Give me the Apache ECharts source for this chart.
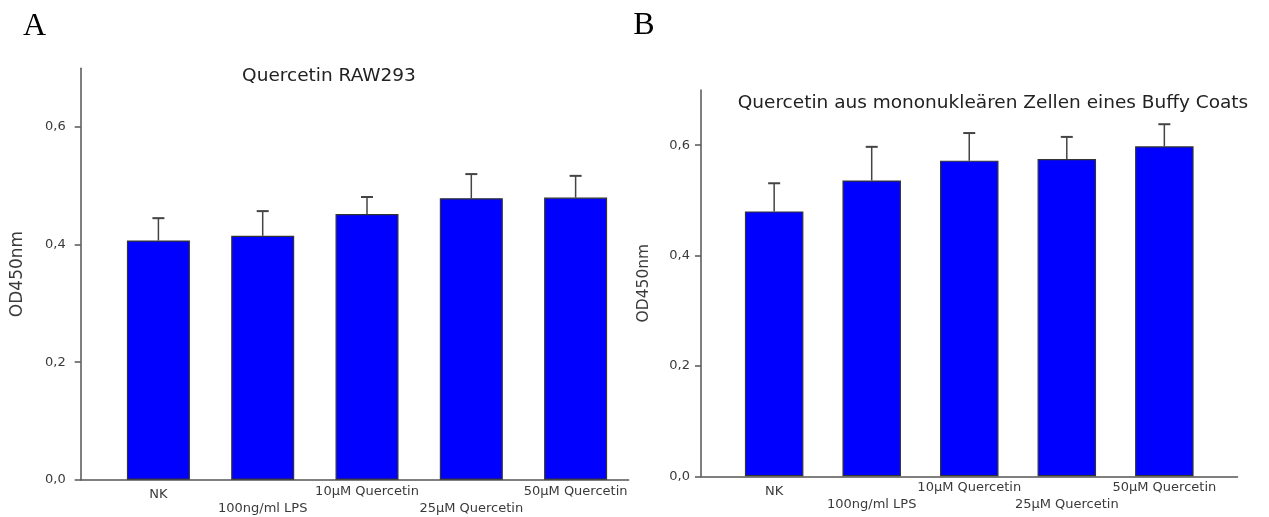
<!DOCTYPE html>
<html>
<head>
<meta charset="utf-8">
<title>Quercetin OD450</title>
<script src="https://cdn.jsdelivr.net/npm/echarts@6/dist/echarts.min.js"></script>
<style>
html,body{margin:0;padding:0;background:#fff}
#chart{width:1269px;height:517px}
</style>
</head>
<body>
<div id="chart"></div>
<script>
// values
var categories = ['NK','100ng/ml LPS','10µM Quercetin','25µM Quercetin','50µM Quercetin'];
var meansA = [0.407,0.415,0.452,0.479,0.480];
var errorsA = [0.038,0.042,0.029,0.041,0.037];
var meansB = [0.480,0.536,0.572,0.575,0.598];
var errorsB = [0.051,0.061,0.050,0.040,0.040];
var yTicks = [0,0.2,0.4,0.6];
var titleA = 'Quercetin RAW293';
var titleB = 'Quercetin aus mononukleären Zellen eines Buffy Coats';
var yName = 'OD450nm';

var FONT = '"DejaVu Sans", sans-serif';
var AXIS = '#555';
var TEXT = '#3a3a3a';

// one x axis per label row, all in the same grid (staggered labels like the original)
function xAxisFor(grid,min,max,values,margin,showLine){
	return {
		type:'value',gridIndex:grid,min:min,max:max,position:'bottom',offset:0,
		splitLine:{show:false},
		axisTick:{show:false},
		axisLine:{show:showLine,onZero:false,lineStyle:{color:AXIS,width:1.5}},
		axisLabel:{
			customValues:values,
			formatter:function(v){ return categories[Math.round(v)]; },
			hideOverlap:false,
			margin:margin,
			color:TEXT,fontFamily:FONT,fontSize:13
		}
	};
}

function yAxisFor(grid,nameSize,nameGap,labelMargin){
	return {
		type:'value',gridIndex:grid,min:0,max:0.7,
		splitLine:{show:false},
		axisLine:{show:true,onZero:false,lineStyle:{color:AXIS,width:1.5}},
		axisTick:{show:true,length:6,customValues:yTicks,lineStyle:{color:AXIS,width:1.5}},
		axisLabel:{
			customValues:yTicks,
			margin:labelMargin,
			color:TEXT,fontFamily:FONT,fontSize:13,
			formatter:function(v){ return v.toFixed(1).replace('.',','); }
		},
		name:yName,nameLocation:'middle',nameGap:nameGap,
		nameTextStyle:{color:TEXT,fontFamily:FONT,fontSize:nameSize}
	};
}

function renderErr(params,api){
	var x = api.value(0), m = api.value(1), e = api.value(2);
	var p0 = api.coord([x,m]);
	var p1 = api.coord([x,m+e]);
	return {
		type:'group',
		children:[
			{type:'line',shape:{x1:p0[0],y1:p0[1],x2:p1[0],y2:p1[1]},style:{stroke:'#444',lineWidth:1.5}},
			{type:'line',shape:{x1:p1[0]-6,y1:p1[1],x2:p1[0]+6,y2:p1[1]},style:{stroke:'#444',lineWidth:2}}
		]
	};
}

function barSeries(xi,yi,means,width){
	return {
		type:'bar',xAxisIndex:xi,yAxisIndex:yi,
		barWidth:width,
		data:means.map(function(m,i){ return [i,m]; }),
		itemStyle:{color:'#0000ff',borderColor:'#333',borderWidth:1.2},
		silent:true
	};
}

function errSeries(xi,yi,means,errs){
	return {
		type:'custom',xAxisIndex:xi,yAxisIndex:yi,
		data:means.map(function(m,i){ return [i,m,errs[i]]; }),
		encode:{x:0,y:1},
		renderItem:renderErr,
		z:3,silent:true
	};
}

var myChart = echarts.init(document.getElementById('chart'));
var option = {
	backgroundColor:'#fff',
	animation:false,
	grid:[
		{left:80.7,right:640.4,top:68.3,bottom:37.3},
		{left:701,right:31.5,top:90,bottom:40.7}
	],
	xAxis:[
		xAxisFor(0,-0.745,4.508,[2,4],5,true),
		xAxisFor(0,-0.745,4.508,[0],8,false),
		xAxisFor(0,-0.745,4.508,[1,3],22.5,false),
		xAxisFor(1,-0.75,4.75,[2,4],5,true),
		xAxisFor(1,-0.75,4.75,[0],9,false),
		xAxisFor(1,-0.75,4.75,[1,3],22,false)
	],
	yAxis:[
		yAxisFor(0,17,55,15),
		yAxisFor(1,15.5,49,11)
	],
	graphic:[
		{type:'text',x:34.5,y:27,style:{text:'A',fontFamily:'"Liberation Serif", serif',fontSize:32,fill:'#000',align:'center',verticalAlign:'middle'}},
		{type:'text',x:644,y:26,style:{text:'B',fontFamily:'"Liberation Serif", serif',fontSize:32,fill:'#000',align:'center',verticalAlign:'middle'}},
		{type:'text',x:329,y:76,style:{text:titleA,fontFamily:FONT,fontSize:18.5,fill:'#222',align:'center',verticalAlign:'middle'}},
		{type:'text',x:993,y:103,style:{text:titleB,fontFamily:FONT,fontSize:18.5,fill:'#222',align:'center',verticalAlign:'middle'}}
	],
	series:[
		barSeries(0,0,meansA,63),
		errSeries(0,0,meansA,errorsA),
		barSeries(3,1,meansB,58.5),
		errSeries(3,1,meansB,errorsB)
	]
};
myChart.setOption(option);
</script>
</body>
</html>
